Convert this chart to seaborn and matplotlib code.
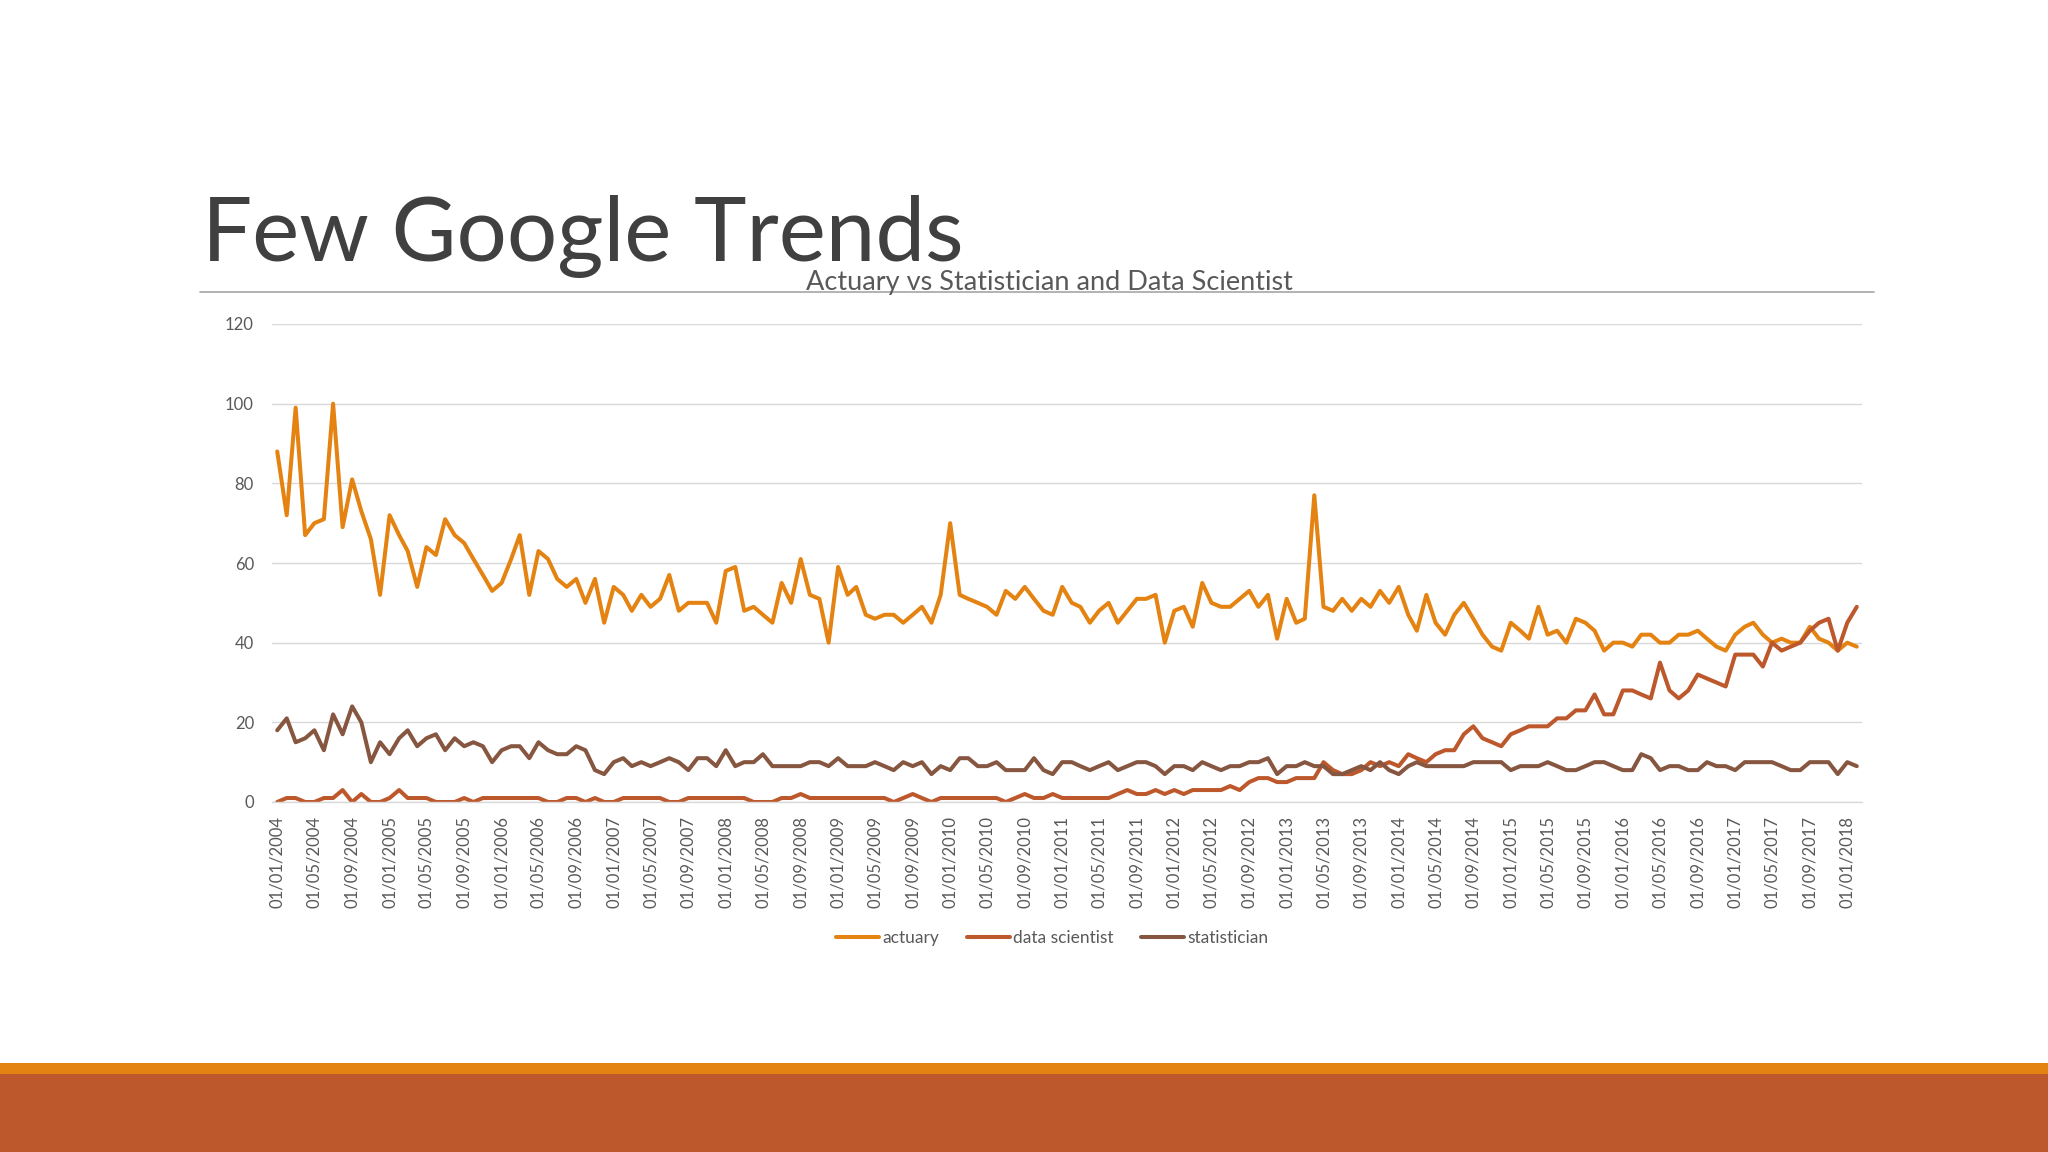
"""
plot.py
Google Trends slide: actuary vs statistician and data scientist, monthly 2004-2018.
Output:
  - out.png
"""

# Constants
OUT_PATH = 'out.png'

# Import libraries
import pandas as pd
import matplotlib.pyplot as plt
import matplotlib.dates as mdates
from matplotlib.patches import Rectangle
from matplotlib.lines import Line2D
import seaborn as sns

#..data (monthly search interest, Jan 2004 - Feb 2018)
months = pd.date_range('2004-01-01', periods=170, freq='MS')

actuary = [
    88, 72, 99, 67, 70, 71, 100, 69, 81, 73,
    66, 52, 72, 67, 63, 54, 64, 62, 71, 67,
    65, 61, 57, 53, 55, 61, 67, 52, 63, 61,
    56, 54, 56, 50, 56, 45, 54, 52, 48, 52,
    49, 51, 57, 48, 50, 50, 50, 45, 58, 59,
    48, 49, 47, 45, 55, 50, 61, 52, 51, 40,
    59, 52, 54, 47, 46, 47, 47, 45, 47, 49,
    45, 52, 70, 52, 51, 50, 49, 47, 53, 51,
    54, 51, 48, 47, 54, 50, 49, 45, 48, 50,
    45, 48, 51, 51, 52, 40, 48, 49, 44, 55,
    50, 49, 49, 51, 53, 49, 52, 41, 51, 45,
    46, 77, 49, 48, 51, 48, 51, 49, 53, 50,
    54, 47, 43, 52, 45, 42, 47, 50, 46, 42,
    39, 38, 45, 43, 41, 49, 42, 43, 40, 46,
    45, 43, 38, 40, 40, 39, 42, 42, 40, 40,
    42, 42, 43, 41, 39, 38, 42, 44, 45, 42,
    40, 41, 40, 40, 44, 41, 40, 38, 40, 39,
]

data_scientist = [
    0, 1, 1, 0, 0, 1, 1, 3, 0, 2,
    0, 0, 1, 3, 1, 1, 1, 0, 0, 0,
    1, 0, 1, 1, 1, 1, 1, 1, 1, 0,
    0, 1, 1, 0, 1, 0, 0, 1, 1, 1,
    1, 1, 0, 0, 1, 1, 1, 1, 1, 1,
    1, 0, 0, 0, 1, 1, 2, 1, 1, 1,
    1, 1, 1, 1, 1, 1, 0, 1, 2, 1,
    0, 1, 1, 1, 1, 1, 1, 1, 0, 1,
    2, 1, 1, 2, 1, 1, 1, 1, 1, 1,
    2, 3, 2, 2, 3, 2, 3, 2, 3, 3,
    3, 3, 4, 3, 5, 6, 6, 5, 5, 6,
    6, 6, 10, 8, 7, 7, 8, 10, 9, 10,
    9, 12, 11, 10, 12, 13, 13, 17, 19, 16,
    15, 14, 17, 18, 19, 19, 19, 21, 21, 23,
    23, 27, 22, 22, 28, 28, 27, 26, 35, 28,
    26, 28, 32, 31, 30, 29, 37, 37, 37, 34,
    40, 38, 39, 40, 43, 45, 46, 38, 45, 49,
]

statistician = [
    18, 21, 15, 16, 18, 13, 22, 17, 24, 20,
    10, 15, 12, 16, 18, 14, 16, 17, 13, 16,
    14, 15, 14, 10, 13, 14, 14, 11, 15, 13,
    12, 12, 14, 13, 8, 7, 10, 11, 9, 10,
    9, 10, 11, 10, 8, 11, 11, 9, 13, 9,
    10, 10, 12, 9, 9, 9, 9, 10, 10, 9,
    11, 9, 9, 9, 10, 9, 8, 10, 9, 10,
    7, 9, 8, 11, 11, 9, 9, 10, 8, 8,
    8, 11, 8, 7, 10, 10, 9, 8, 9, 10,
    8, 9, 10, 10, 9, 7, 9, 9, 8, 10,
    9, 8, 9, 9, 10, 10, 11, 7, 9, 9,
    10, 9, 9, 7, 7, 8, 9, 8, 10, 8,
    7, 9, 10, 9, 9, 9, 9, 9, 10, 10,
    10, 10, 8, 9, 9, 9, 10, 9, 8, 8,
    9, 10, 10, 9, 8, 8, 12, 11, 8, 9,
    9, 8, 8, 10, 9, 9, 8, 10, 10, 10,
    10, 9, 8, 8, 10, 10, 10, 7, 10, 9,
]

series_names = ['actuary', 'data scientist', 'statistician']
series_colors = ['#E48312', '#BD582C', '#865640']
y_ticks = [0, 20, 40, 60, 80, 100, 120]

#..long table for seaborn
tbl = pd.DataFrame({
    'month': months,
    'actuary': actuary,
    'data scientist': data_scientist,
    'statistician': statistician,
}).melt(id_vars='month', var_name='term', value_name='interest')

#..style
sns.set_theme(style='white')
plt.rcParams['font.family'] = ['Lato', 'DejaVu Sans']

#..make plot
fig = plt.figure(figsize=(20.48, 11.52), dpi=100)
ax = fig.add_axes([272 / 2048, 1 - 802 / 1152, (1862 - 272) / 2048, (802 - 324) / 1152])

sns.lineplot(
    data=tbl,
    x='month',
    y='interest',
    hue='term',
    hue_order=series_names,
    palette=series_colors,
    linewidth=2.9,
    ax=ax,
    legend=False,
)

pad = pd.Timedelta(days=17)
ax.set_xlim(months[0] - pad, months[-1] + pad)
ax.set_ylim(0, 120)
ax.set_yticks(y_ticks)
ax.set_xticks(months[::4])
ax.xaxis.set_major_formatter(mdates.DateFormatter('%d/%m/%Y'))
ax.tick_params(axis='x', rotation=90, labelsize=12, colors='#595959', length=0, pad=10)
ax.tick_params(axis='y', labelsize=12, colors='#595959', length=0, pad=13)
ax.set_xlabel('')
ax.set_ylabel('')
ax.grid(axis='y', color='#d9d9d9', linewidth=1.0)
ax.set_axisbelow(True)
for side in ['top', 'right', 'left']:
    ax.spines[side].set_visible(False)
ax.spines['bottom'].set_color('#d9d9d9')
ax.spines['bottom'].set_linewidth(1.0)

#..legend
handles = [Line2D([0], [0], color=c, linewidth=2.9) for c in series_colors]
fig.legend(
    handles, series_names,
    loc='center', bbox_to_anchor=(1052 / 2048, 1 - 938 / 1152),
    ncol=3, frameon=False, fontsize=12.5, handlelength=2.5,
    handletextpad=0.15, columnspacing=1.6, labelcolor='#595959',
)

#..slide title, rule and chart title
fig.text(202 / 2048, 1 - 261 / 1152, 'Few Google Trends', fontsize=64,
         fontweight='normal', color='#404040', va='baseline', ha='left')
fig.add_artist(Line2D([200 / 2048, 1874 / 2048], [1 - 292 / 1152, 1 - 292 / 1152],
                      color='#a6a6a6', linewidth=1.2))
fig.text(1049 / 2048, 1 - 290 / 1152, 'Actuary vs Statistician and Data Scientist',
         fontsize=19.5, color='#595959', va='baseline', ha='center')

#..bottom colour bands
fig.add_artist(Rectangle((0, 0), 1, 78 / 1152, transform=fig.transFigure,
                         color='#BD582C', linewidth=0))
fig.add_artist(Rectangle((0, 78 / 1152), 1, 11 / 1152, transform=fig.transFigure,
                         color='#E48312', linewidth=0))

fig.savefig(OUT_PATH, dpi=100)
